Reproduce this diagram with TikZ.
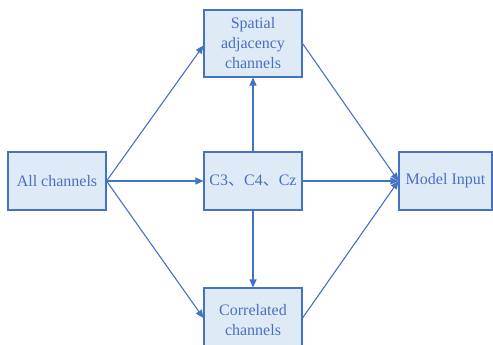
\documentclass[tikz,border=0pt]{standalone}
\usepackage{fontspec}
\setmainfont{Liberation Serif}
\newfontfamily\cjk{Noto Sans CJK SC}
\usetikzlibrary{arrows.meta}
\definecolor{bline}{HTML}{4472C4}
\definecolor{bfill}{HTML}{DEEBF7}
\definecolor{btext}{HTML}{4A6FC0}
\tikzset{
  box/.style={draw=bline, fill=bfill, line width=1.1pt, text=btext, align=center,
    font=\fontsize{16}{20}\selectfont, inner sep=0pt},
  conn/.style={draw=bline, line width=1.1pt, -{Triangle[length=8pt,width=7pt]}}
}
\begin{document}
\begin{tikzpicture}[x=1pt,y=-1pt]
\useasboundingbox (0,0) rectangle (493,345);
\node[box, minimum width=98pt, minimum height=67pt] (sp) at (253,43.5) {Spatial\\adjacency\\channels};
\node[box, minimum width=98pt, minimum height=58pt] (all) at (57,181) {All channels};
\node[box, minimum width=98pt, minimum height=58pt] (c3) at (253,181) {C3{\cjk 、}C4{\cjk 、}Cz};
\node[box, minimum width=93pt, minimum height=58pt] (mi) at (445.5,181) {Model Input};
\node[box, minimum width=98pt, minimum height=60pt, text depth=0pt] (co) at (253,318) {};
\node[text=btext, font=\fontsize{16}{20}\selectfont, align=center] (colbl) at (253,320) {Correlated\\channels};
\coordinate (spw) at ([yshift=-2pt]sp.west);
\coordinate (spe) at (sp.east);
\coordinate (cow) at (co.west);
\draw[conn] (all.east) -- (spw);
\draw[conn] (all.east) -- (c3.west);
\draw[conn] (all.east) -- (cow);
\draw[conn] (c3.north) -- (sp.south);
\draw[conn] (c3.south) -- (co.north);
\draw[conn] (spe) -- (mi.west);
\draw[conn] (c3.east) -- (mi.west);
\draw[conn] (co.east) -- (mi.west);
\end{tikzpicture}
\end{document}
